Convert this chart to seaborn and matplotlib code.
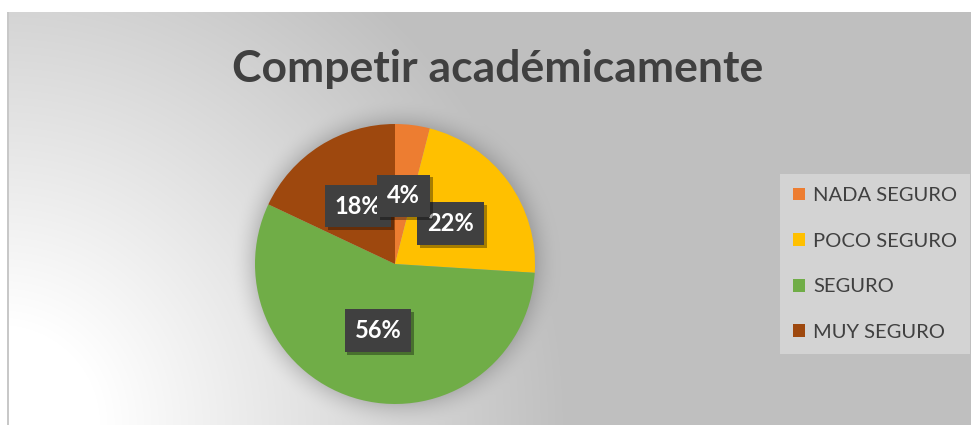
import numpy as np
import matplotlib
matplotlib.use("Agg")
import matplotlib.pyplot as plt
import matplotlib.patheffects as pe
from matplotlib.patches import Patch
import seaborn as sns

categories = ["NADA SEGURO", "POCO SEGURO", "SEGURO", "MUY SEGURO"]
values = [4, 22, 56, 18]
colors = ["#ED7D31", "#FFC000", "#70AD47", "#9E480E"]
title = "Competir académicamente"

sns.set_style("white")
plt.rcParams["font.family"] = ["Lato", "DejaVu Sans"]

W, H = 971, 425
fig = plt.figure(figsize=(W / 100, H / 100), dpi=100)

# background: radial gradient + soft pie shadow
bg = fig.add_axes([0, 0, 1, 1])
yy, xx = np.mgrid[0:H, 0:W] + 0.5
d = np.hypot(xx, yy - H)
t = np.clip((d - 100) / (570 - 100), 0, 1)
g = 255 - 64 * t
cx, cy, R = 395, 264, 140
dp = np.hypot(xx - cx, yy - cy)
s = np.clip(1 - (dp - R) / 26, 0, 1) ** 2
g = g * (1 - 0.15 * s)
g[:12, :] = 255
g[:, :7] = 255
g[12:, 7:9] = 200
img = np.dstack([g, g, g]).astype(np.uint8)
bg.imshow(img, extent=[0, W, H, 0], aspect="auto", interpolation="bilinear")
bg.set_xlim(0, W)
bg.set_ylim(H, 0)
bg.axis("off")

# pie
ax = fig.add_axes([(cx - R) / W, (H - cy - R) / H, 2 * R / W, 2 * R / H])
wedges, texts, autotexts = ax.pie(
    values, colors=colors, startangle=90, counterclock=False,
    autopct=lambda p: f"{p:.0f}%", pctdistance=0.49,
    wedgeprops=dict(linewidth=0),
    textprops=dict(color="white", fontsize=17, fontweight="bold"))
for i, at in enumerate(autotexts):
    at.set_bbox(dict(boxstyle="square,pad=0.42", fc="#404040", ec="none"))
    at.get_bbox_patch().set_path_effects(
        [pe.SimplePatchShadow(offset=(2, -2), shadow_rgbFace="black", alpha=0.35),
         pe.Normal()])
autotexts[0].set_zorder(20)
ax.set_xlim(-1, 1)
ax.set_ylim(-1, 1)
ax.set_aspect("equal")
ax.axis("off")

# title
fig.text(498 / W, 1 - 82 / H, title, ha="center", va="baseline",
         fontsize=32, fontweight="bold", color="#404040")

# legend
handles = [Patch(fc=c, ec="none") for c in colors]
leg = fig.legend(handles, categories, loc="upper left",
                 bbox_to_anchor=(780 / W, 1 - 174 / H),
                 frameon=True, facecolor="#d3d3d3", edgecolor="none",
                 fancybox=False, framealpha=1, fontsize=14.5,
                 labelspacing=1.42, handlelength=0.6, handleheight=0.6,
                 borderpad=0.65, handletextpad=0.4, labelcolor="#404040",
                 borderaxespad=0)

fig.savefig("out.png", dpi=100)
